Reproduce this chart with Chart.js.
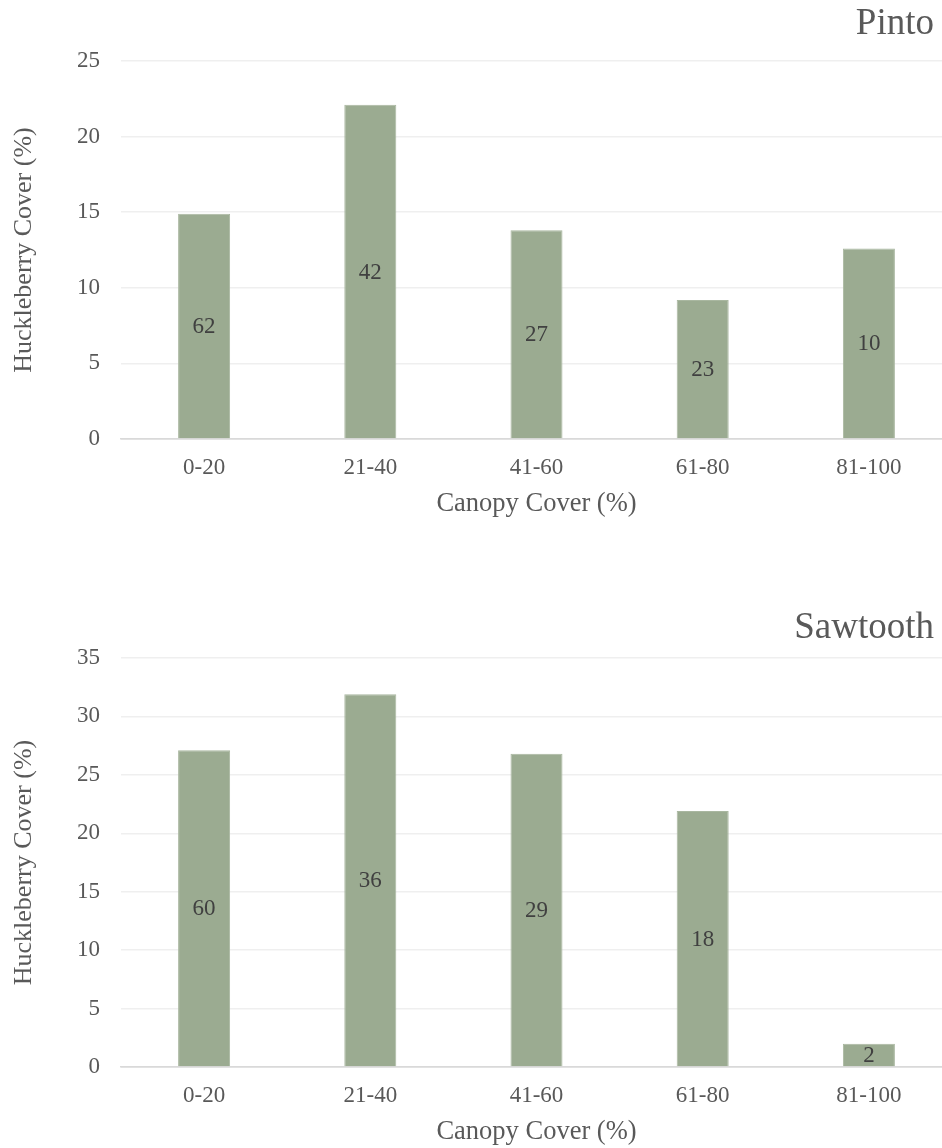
<!DOCTYPE html>
<html>
<head>
<meta charset="utf-8">
<script src="https://cdn.jsdelivr.net/npm/chart.js@4.4.1/dist/chart.umd.min.js"></script>
<style>
  html, body { margin: 0; padding: 0; background: #ffffff; overflow: hidden; width: 942px; height: 1148px; }
  .panel { position: absolute; left: 0; }
  #pintoBox { top: 0; }
  #sawtoothBox { top: 560px; }
</style>
</head>
<body>
<div class="panel" id="pintoBox"><canvas id="pinto" width="960" height="520"></canvas></div>
<div class="panel" id="sawtoothBox"><canvas id="sawtooth" width="960" height="588"></canvas></div>
<script>
// Canopy cover classes shared by both sites
const canopyClasses = ['0-20', '21-40', '41-60', '61-80', '81-100'];

// Pinto: mean huckleberry cover (%) and number of plots per class
const pintoCover = [14.9, 22.1, 13.8, 9.2, 12.6];
const pintoPlots = [62, 42, 27, 23, 10];
const pintoTicks = [0, 5, 10, 15, 20, 25];

// Sawtooth: mean huckleberry cover (%) and number of plots per class
const sawtoothCover = [27.1, 31.9, 26.8, 21.9, 2.0];
const sawtoothPlots = [60, 36, 29, 18, 2];
const sawtoothTicks = [0, 5, 10, 15, 20, 25, 30, 35];

const SERIF = "'Liberation Serif', 'Times New Roman', Times, serif";
const TEXT_GREY = '#595959';
const BAR_GREEN = '#9bab91';

// Writes the plot count in the middle of each bar
const barCountLabels = {
  id: 'barCountLabels',
  afterDatasetsDraw(chart, args, opts) {
    const ctx = chart.ctx;
    const meta = chart.getDatasetMeta(0);
    ctx.save();
    ctx.font = '23px ' + SERIF;
    ctx.fillStyle = '#404040';
    ctx.textAlign = 'center';
    ctx.textBaseline = 'middle';
    meta.data.forEach((bar, i) => {
      const props = bar.getProps(['x', 'y', 'base'], true);
      ctx.fillText(String(opts.counts[i]), props.x, (props.y + props.base) / 2 + 1);
    });
    ctx.restore();
  }
};

// Site name in the upper right corner
const siteName = {
  id: 'siteName',
  afterDraw(chart, args, opts) {
    const ctx = chart.ctx;
    ctx.save();
    ctx.font = '37px ' + SERIF;
    ctx.fillStyle = TEXT_GREY;
    ctx.textAlign = 'right';
    ctx.textBaseline = 'middle';
    ctx.fillText(opts.text, opts.x, opts.y);
    ctx.restore();
  }
};

function buildChart(canvasId, name, nameY, cover, counts, ticks, padTop) {
  const yMax = ticks[ticks.length - 1];
  return new Chart(document.getElementById(canvasId), {
    type: 'bar',
    data: {
      labels: canopyClasses,
      datasets: [{
        data: cover,
        backgroundColor: BAR_GREEN,
        borderColor: '#a9b7a0',
        borderWidth: 1,
        barPercentage: 0.313,
        categoryPercentage: 1.0
      }]
    },
    plugins: [barCountLabels, siteName],
    options: {
      responsive: false,
      animation: false,
      devicePixelRatio: 1,
      layout: { padding: { top: padTop, right: 8, bottom: 0, left: 0 } },
      plugins: {
        legend: { display: false },
        tooltip: { enabled: false },
        barCountLabels: { counts: counts },
        siteName: { text: name, x: 934, y: nameY }
      },
      scales: {
        x: {
          offset: true,
          grid: { display: false, drawTicks: false },
          border: { display: true, color: '#d9d9d9', width: 1.5 },
          ticks: { color: TEXT_GREY, font: { family: SERIF, size: 23 }, padding: 15 },
          title: {
            display: true,
            text: 'Canopy Cover (%)',
            color: TEXT_GREY,
            font: { family: SERIF, size: 26.5 },
            padding: { top: 0, bottom: 0 }
          },
          afterFit(scale) { scale.height = 81; }
        },
        y: {
          min: 0,
          max: yMax,
          afterBuildTicks(scale) { scale.ticks = ticks.map(v => ({ value: v })); },
          grid: {
            drawTicks: false,
            lineWidth: 1.5,
            color: (c) => (c.tick && c.tick.value === 0 ? '#d9d9d9' : '#efefef')
          },
          border: { display: false },
          ticks: { color: TEXT_GREY, font: { family: SERIF, size: 23 }, padding: 21 },
          title: {
            display: true,
            text: 'Huckleberry Cover (%)',
            color: TEXT_GREY,
            font: { family: SERIF, size: 26 },
            padding: { top: 9, bottom: 0 }
          },
          afterFit(scale) { scale.width = 121; }
        }
      }
    }
  });
}

buildChart('pinto', 'Pinto', 24, pintoCover, pintoPlots, pintoTicks, 61);
buildChart('sawtooth', 'Sawtooth', 68, sawtoothCover, sawtoothPlots, sawtoothTicks, 98);
</script>
</body>
</html>
